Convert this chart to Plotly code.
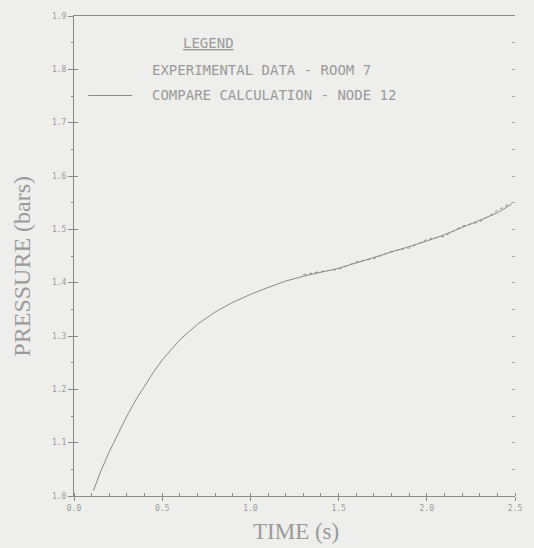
import plotly.graph_objects as go

# Pressure history: calculated curve (node 12) and measured data (room 7)
calc_time = [0.11, 0.15, 0.20, 0.25, 0.30, 0.35, 0.40, 0.45, 0.50, 0.55, 0.60,
             0.70, 0.80, 0.90, 1.00, 1.10, 1.20, 1.30, 1.40, 1.50, 1.60, 1.70,
             1.80, 1.90, 2.00, 2.10, 2.20, 2.30, 2.40, 2.48]
calc_pressure = [1.010, 1.045, 1.083, 1.118, 1.150, 1.180, 1.207, 1.232, 1.255,
                 1.275, 1.293, 1.322, 1.345, 1.363, 1.378, 1.391, 1.403, 1.412,
                 1.419, 1.427, 1.437, 1.447, 1.457, 1.467, 1.478, 1.490, 1.503,
                 1.517, 1.531, 1.547]

exp_time = [1.30, 1.40, 1.50, 1.60, 1.70, 1.80, 1.90, 2.00, 2.10, 2.20, 2.30,
            2.40, 2.48]
exp_pressure = [1.415, 1.421, 1.425, 1.439, 1.445, 1.459, 1.465, 1.481, 1.487,
                1.506, 1.514, 1.535, 1.550]

x_ticks = [0.0, 0.5, 1.0, 1.5, 2.0, 2.5]
x_tick_text = ["0.0", "0.5", "1.0", "1.5", "2.0", "2.5"]
y_ticks = [1.0, 1.1, 1.2, 1.3, 1.4, 1.5, 1.6, 1.7, 1.8, 1.9]

paper = "#eeeeec"
ink = "#9a9a9a"
line_ink = "#8a8a8a"
mono = "DejaVu Sans Mono"
serif = "Liberation Serif"

fig = go.Figure()
fig.add_trace(go.Scatter(x=calc_time, y=calc_pressure, mode="lines",
                         line=dict(color=line_ink, width=1),
                         showlegend=False, hoverinfo="skip"))
fig.add_trace(go.Scatter(x=exp_time, y=exp_pressure, mode="lines",
                         line=dict(color=line_ink, width=1, dash="dot"),
                         showlegend=False, hoverinfo="skip"))

fig.update_layout(
    width=534, height=548,
    margin=dict(l=74, r=16, t=15, b=52),
    paper_bgcolor=paper, plot_bgcolor=paper,
    showlegend=False,
    xaxis=dict(range=[0, 2.5], tickvals=x_ticks, ticktext=x_tick_text,
               showgrid=False, zeroline=False, showline=True,
               linecolor=line_ink, linewidth=1,
               ticks="outside", ticklen=4, tickcolor=line_ink,
               minor=dict(ticks="inside", ticklen=3, dtick=0.1,
                          tickcolor=line_ink, showgrid=False),
               tickfont=dict(family=mono, size=8, color=ink)),
    xaxis2=dict(range=[0, 2.5], overlaying="x", side="top",
                showgrid=False, zeroline=False, showline=True,
                linecolor=line_ink, linewidth=1, ticks="",
                showticklabels=False),
    yaxis=dict(range=[1.0, 1.9], tickvals=y_ticks, tickformat=".1f",
               showgrid=False, zeroline=False, showline=True,
               linecolor=line_ink, linewidth=1,
               ticks="outside", ticklen=5, tickcolor=line_ink,
               minor=dict(ticks="outside", ticklen=2, dtick=0.05,
                          tickcolor=line_ink, showgrid=False),
               tickfont=dict(family=mono, size=8, color=ink)),
    yaxis2=dict(range=[1.0, 1.9], overlaying="y", side="left",
                tickvals=y_ticks, showgrid=False, zeroline=False,
                showline=False, ticks="inside", ticklen=4,
                tickcolor=line_ink, showticklabels=False),
    yaxis3=dict(range=[1.0, 1.9], overlaying="y", side="right",
                dtick=0.05, tick0=1.0, showgrid=False, zeroline=False,
                showline=False, ticks="inside", ticklen=3,
                tickcolor="#a8a8a8", showticklabels=False),
)

# keep the frame axes bound to hidden helper traces
fig.add_trace(go.Scatter(x=[None], y=[None], xaxis="x2", yaxis="y2",
                         showlegend=False, hoverinfo="skip"))
fig.add_trace(go.Scatter(x=[None], y=[None], xaxis="x", yaxis="y3",
                         showlegend=False, hoverinfo="skip"))

# axis titles
fig.add_annotation(text="TIME (s)", xref="paper", yref="paper",
                   x=0.504, y=-0.104, xanchor="center", yanchor="bottom",
                   showarrow=False,
                   font=dict(family=serif, size=23, color=ink))
fig.add_annotation(text="PRESSURE (bars)", xref="paper", yref="paper",
                   x=-0.12, y=0.478, xanchor="center", yanchor="middle",
                   textangle=-90, showarrow=False,
                   font=dict(family=serif, size=24, color=ink))

# legend block
fig.add_annotation(text="<u>LEGEND</u>", xref="x", yref="y",
                   x=0.76, y=1.85, xanchor="center", yanchor="middle",
                   showarrow=False,
                   font=dict(family=mono, size=14, color=ink))
fig.add_annotation(text="EXPERIMENTAL DATA - ROOM 7", xref="x", yref="y",
                   x=0.43, y=1.798, xanchor="left", yanchor="middle",
                   showarrow=False,
                   font=dict(family=mono, size=14, color=ink))
fig.add_annotation(text="COMPARE CALCULATION - NODE 12", xref="x", yref="y",
                   x=0.43, y=1.751, xanchor="left", yanchor="middle",
                   showarrow=False,
                   font=dict(family=mono, size=14, color=ink))
fig.add_shape(type="line", xref="x", yref="y", x0=0.08, x1=0.33,
              y0=1.751, y1=1.751, line=dict(color=line_ink, width=1))

fig.write_html("out.html")
